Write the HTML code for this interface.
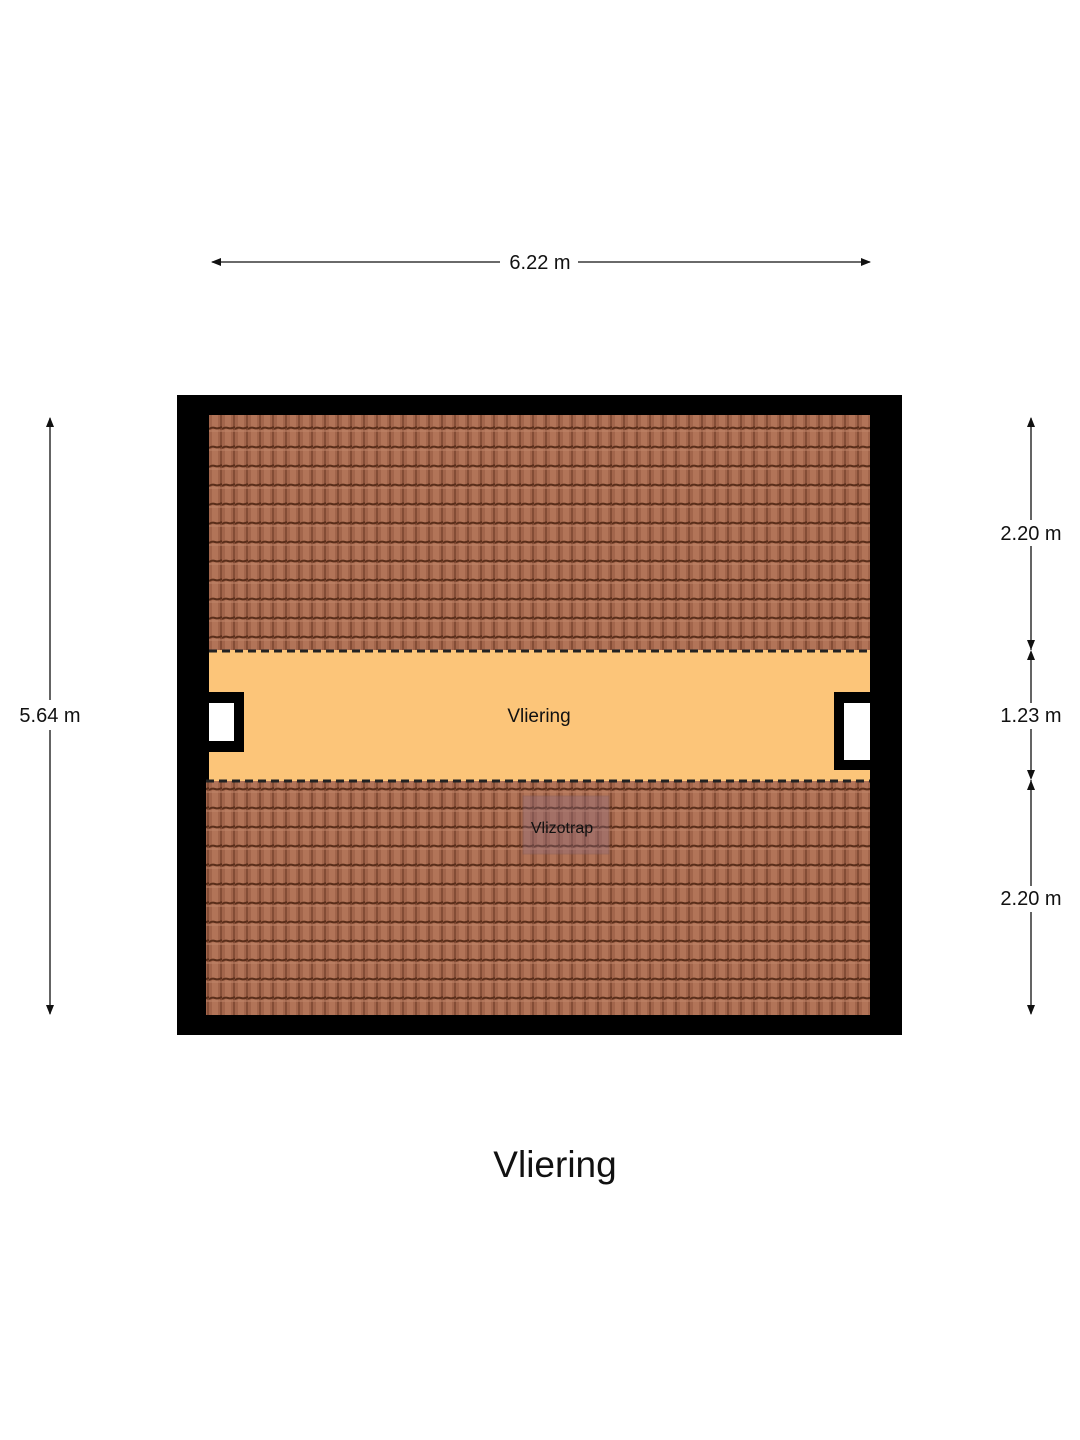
<!DOCTYPE html>
<html><head><meta charset="utf-8"><style>
html,body{margin:0;padding:0;background:#fff;width:1080px;height:1440px;overflow:hidden}
svg text{font-family:"Liberation Sans",sans-serif;fill:#111}
</style></head><body>
<svg width="1080" height="1440" viewBox="0 0 1080 1440" xmlns="http://www.w3.org/2000/svg">
<defs>
<pattern id="t" x="209" y="415" width="13" height="19" patternUnits="userSpaceOnUse">
<rect width="13" height="19" fill="#a2654b"/>
<rect x="3" y="0" width="6" height="19" fill="#b27458"/>
<rect x="11" y="0" width="2" height="19" fill="#844d36"/>
<path d="M0 14 Q3 12 6 13 T13 12" stroke="#5a2e1a" stroke-width="2" fill="none"/>
<rect x="0" y="15" width="13" height="2" fill="#c0866a" opacity="0.5"/>
</pattern>
<marker id="a" markerWidth="10" markerHeight="8" refX="9" refY="4" orient="auto" markerUnits="userSpaceOnUse"><path d="M0 0L10 4L0 8z" fill="#111"/></marker>
</defs>
<line x1="500" y1="262" x2="212" y2="262" stroke="#111" stroke-width="1.3" marker-end="url(#a)"/>
<line x1="578" y1="262" x2="870" y2="262" stroke="#111" stroke-width="1.3" marker-end="url(#a)"/>
<text x="540" y="269" font-size="20" text-anchor="middle">6.22 m</text>
<line x1="50" y1="700" x2="50" y2="418" stroke="#111" stroke-width="1.3" marker-end="url(#a)"/>
<line x1="50" y1="730" x2="50" y2="1014" stroke="#111" stroke-width="1.3" marker-end="url(#a)"/>
<rect x="16" y="703" width="68" height="26" fill="#fff"/>
<text x="50" y="722" font-size="20" text-anchor="middle">5.64 m</text>
<line x1="1031" y1="650" x2="1031" y2="418" stroke="#111" stroke-width="1.3" marker-end="url(#a)"/>
<line x1="1031" y1="780" x2="1031" y2="1014" stroke="#111" stroke-width="1.3" marker-end="url(#a)"/>
<line x1="1031" y1="655" x2="1031" y2="775" stroke="#111" stroke-width="1.3"/>
<path d="M1027 640L1031 650L1035 640z M1027 660L1031 650L1035 660z M1027 770L1031 780L1035 770z M1027 790L1031 780L1035 790z" fill="#111"/>
<rect x="994" y="520" width="74" height="26" fill="#fff"/>
<text x="1031" y="540" font-size="20" text-anchor="middle">2.20 m</text>
<rect x="994" y="703" width="74" height="26" fill="#fff"/>
<text x="1031" y="722" font-size="20" text-anchor="middle">1.23 m</text>
<rect x="994" y="886" width="74" height="26" fill="#fff"/>
<text x="1031" y="905" font-size="20" text-anchor="middle">2.20 m</text>
<rect x="177" y="395" width="725" height="640" fill="#000"/>
<rect x="209" y="415" width="661" height="236" fill="url(#t)"/>
<rect x="206" y="781" width="664" height="234" fill="url(#t)"/>
<rect x="209" y="650" width="661" height="131" fill="#fcc579"/>
<line x1="209" y1="651" x2="870" y2="651" stroke="#222" stroke-width="3" stroke-dasharray="8,5"/>
<line x1="206" y1="781" x2="870" y2="781" stroke="#222" stroke-width="3" stroke-dasharray="8,5"/>
<rect x="209" y="692" width="35" height="60" fill="#000"/>
<rect x="209" y="703" width="25" height="38" fill="#fff"/>
<rect x="834" y="692" width="36" height="78" fill="#000"/>
<rect x="844" y="703" width="26" height="57" fill="#fff"/>
<rect x="523" y="796" width="86" height="58" fill="#8a6a80" opacity="0.35" stroke="#7a5a60" stroke-width="1"/>
<text x="562" y="833" font-size="16" text-anchor="middle">Vlizotrap</text>
<text x="539" y="722" font-size="19" text-anchor="middle">Vliering</text>
<text x="555" y="1177" font-size="37" text-anchor="middle">Vliering</text>
</svg>
</body></html>
